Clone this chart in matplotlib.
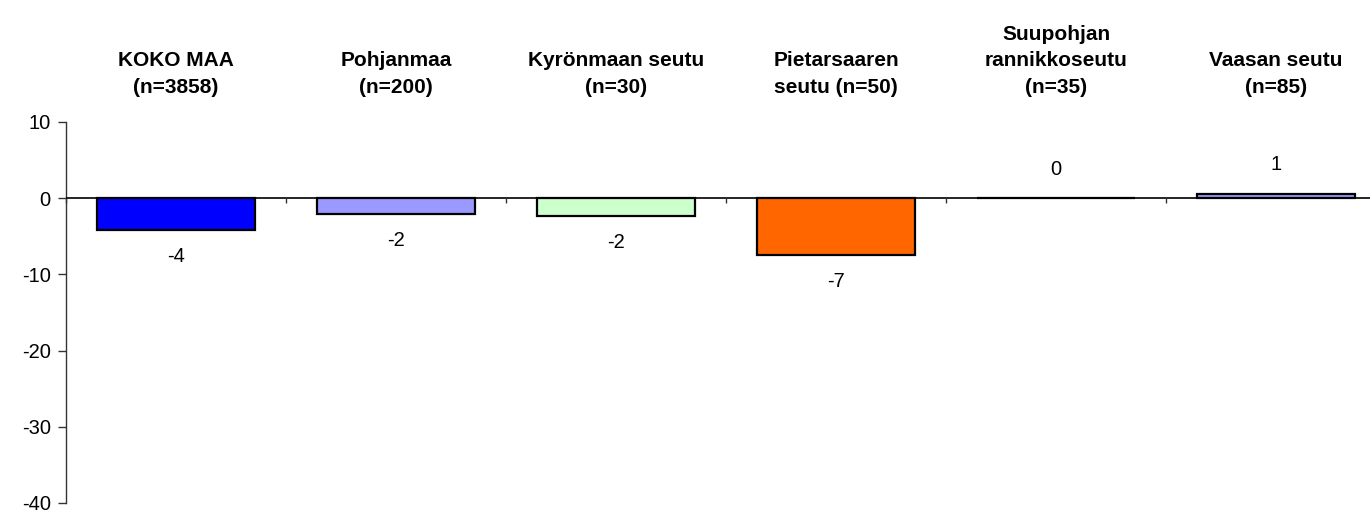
import matplotlib
matplotlib.use("Agg")
import matplotlib.pyplot as plt
from matplotlib.transforms import blended_transform_factory

categories = ["KOKO MAA\n(n=3858)", "Pohjanmaa\n(n=200)", "Kyrönmaan seutu\n(n=30)",
              "Pietarsaaren\nseutu (n=50)", "Suupohjan\nrannikkoseutu\n(n=35)", "Vaasan seutu\n(n=85)"]
values = [-4.2, -2.1, -2.3, -7.45, 0.0, 0.6]
value_labels = ["-4", "-2", "-2", "-7", "0", "1"]
colors = ["#0000FF", "#9999FF", "#CCFFCC", "#FF6600", "#9999FF", "#9999FF"]
yticks = [10, 0, -10, -20, -30, -40]

plt.rcParams['font.family'] = ['Liberation Sans', 'DejaVu Sans']

W, H = 1370, 514
fig = plt.figure(figsize=(W / 100, H / 100), dpi=100)
ax = fig.add_axes([66 / W, 1 - 503 / H, (1386 - 66) / W, (503 - 122) / H])

n = len(categories)
xs = list(range(n))
ax.bar(xs, values, width=0.72, color=colors, edgecolor="black", linewidth=1.6, zorder=3)

ax.set_xlim(-0.5, n - 0.5)
ax.set_ylim(-40, 10)
ax.set_yticks(yticks)
ax.set_yticklabels([str(t) for t in yticks], fontsize=14.5)
ax.tick_params(axis="y", direction="out", length=6, width=1, pad=5, color="#333333")
ax.set_xticks([])
for s in ["top", "right", "bottom"]:
    ax.spines[s].set_visible(False)
ax.spines["left"].set_color("#333333")
ax.spines["left"].set_linewidth(1)

ax.axhline(0, color="black", linewidth=1.2, zorder=4)
bounds = [i - 0.5 for i in range(n + 1)]
ax.vlines(bounds, -0.6, 0, color="#333333", linewidth=1, zorder=4, clip_on=False)

for x, v, lab in zip(xs, values, value_labels):
    off = -19 if v < 0 else 21
    ax.annotate(lab, (x, v), xytext=(0, off), textcoords="offset points",
                ha="center", va="center", fontsize=14.5)

trans = blended_transform_factory(ax.transData, fig.transFigure)
for x, cat in zip(xs, categories):
    ax.text(x, 1 - 97 / H, cat, transform=trans, ha="center", va="bottom",
            fontsize=15, fontweight="bold", linespacing=1.5, clip_on=False)

fig.savefig("out.png", dpi=100)
